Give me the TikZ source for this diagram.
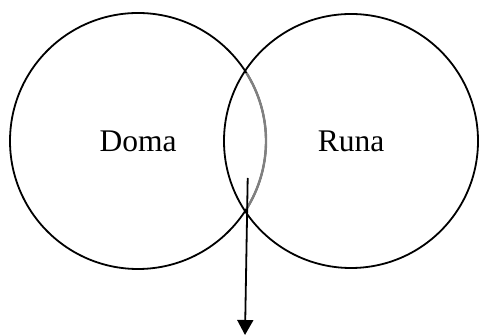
\documentclass[tikz,border=0pt]{standalone}
\usepackage{fontspec}
\setmainfont{Liberation Serif}
\usetikzlibrary{arrows.meta}
\begin{document}
\begin{tikzpicture}[x=1pt,y=1pt,
  setcircle/.style={draw=black, line width=1.8pt, circle, inner sep=0pt, outer sep=0pt,
    font=\fontsize{31.5}{36}\selectfont},
  overlaparc/.style={draw=black!50, line width=2.4pt},
  pointer/.style={draw=black, line width=1.8pt, -{Triangle[width=16pt,length=15pt]}}]
\useasboundingbox (0,0) rectangle (479,336);
\node[setcircle, minimum size=256pt] (doma) at (138,195) {Doma};
\node[setcircle, minimum size=254pt] (runa) at (351,195) {Runa};
\draw[overlaparc] (doma.32) arc[start angle=32, end angle=-32, radius=128pt];
\coordinate (start) at (247.7,158);
\coordinate (tip) at (245,1);
\draw[pointer] (start) -- (tip);
\end{tikzpicture}
\end{document}
